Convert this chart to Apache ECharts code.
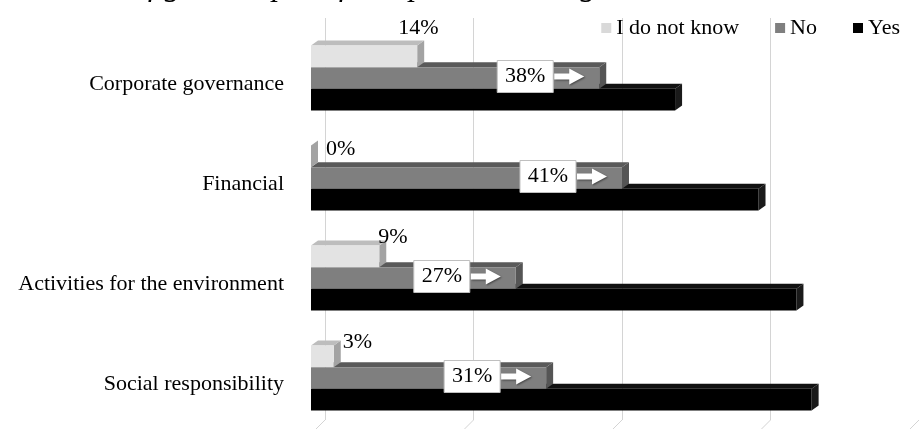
<!DOCTYPE html>
<html>
<head>
<meta charset="utf-8">
<script src="https://cdn.jsdelivr.net/npm/echarts@6/dist/echarts.min.js"></script>
<style>
  html, body { margin: 0; padding: 0; background: #fff; }
  #main { width: 919px; height: 429px; }
</style>
</head>
<body>
<div id="main"></div>
<script>
const categories = ['Corporate governance', 'Financial', 'Activities for the environment', 'Social responsibility'];
const seriesNames = ['I do not know', 'No', 'Yes'];
const dontKnow = [14, 0, 9, 3];
const no = [38, 41, 27, 31];
const yes = [48, 59, 64, 66];
const axisTicks = [0, 20, 40, 60, 80];

const FONT = '"Liberation Serif", "Times New Roman", serif';
const BAR_RATIO = 0.217;   // bar thickness as part of the category band
const DX = 7, DY = 5;      // 3d depth of the bars
// where the excel labels of the "I do not know" bars sit, relative to the bar end
const idkLabelShift = [[-19, -17], [15, 4], [-1, -8], [9, -3]];

const faces = [
  { front: '#e3e3e3', top: '#bdbdbd', side: '#a3a3a3', legend: '#d9d9d9' },
  { front: '#7f7f7f', top: '#5a5a5a', side: '#555555', legend: '#7f7f7f' },
  { front: '#000000', top: '#111111', side: '#1a1a1a', legend: '#000000' }
];

var myChart = echarts.init(document.getElementById('main'));

function barShapes (k, x0, x1, y0, t) {
  var c = faces[k];
  return [
    { type: 'polygon', shape: { points: [[x1, y0], [x1 + DX, y0 - DY], [x1 + DX, y0 + t - DY], [x1, y0 + t]] }, style: { fill: c.side } },
    { type: 'polygon', shape: { points: [[x0, y0], [x0 + DX, y0 - DY], [x1 + DX, y0 - DY], [x1, y0]] }, style: { fill: c.top } },
    { type: 'rect', shape: { x: x0, y: y0, width: x1 - x0, height: t }, style: { fill: c.front } }
  ];
}

function makeRender (k) {
  return function (params, api) {
    var val = api.value(0);
    var cat = api.value(1);
    var p0 = api.coord([0, cat]);
    var p1 = api.coord([val, cat]);
    var band = api.size([0, 1])[1];
    var t = band * BAR_RATIO;
    var y0 = p0[1] - 1.5 * t + k * t;
    var x0 = p0[0], x1 = p1[0];
    var children = barShapes(k, x0, x1, y0, t);

    if (k === 0) {
      var sh = idkLabelShift[params.dataIndex];
      children.push({
        type: 'text',
        style: { text: val + '%', x: x1 + sh[0], y: y0 + sh[1], fill: '#000', font: '22px ' + FONT, align: 'left', verticalAlign: 'middle' }
      });
    } else if (k === 1) {
      var bw = 56, bh = 32;
      var bx = x1 - 46 - bw;
      var cy = y0 + t / 2 - 1.5;
      var ax = bx + bw + 1;
      children.push({
        type: 'rect',
        shape: { x: bx, y: cy - bh / 2, width: bw, height: bh },
        style: { fill: '#fff', stroke: '#bfbfbf', lineWidth: 1 }
      });
      children.push({
        type: 'text',
        style: { text: val + '%', x: bx + bw / 2, y: cy, fill: '#000', font: '22px ' + FONT, align: 'center', verticalAlign: 'middle' }
      });
      children.push({
        type: 'polygon',
        shape: { points: [[ax, cy - 3], [ax + 15, cy - 3], [ax + 15, cy - 8], [ax + 30, cy], [ax + 15, cy + 8], [ax + 15, cy + 3], [ax, cy + 3]] },
        style: { fill: '#fff', shadowColor: 'rgba(0,0,0,0.45)', shadowBlur: 2, shadowOffsetX: 1, shadowOffsetY: 1 }
      });
    }
    return { type: 'group', children: children };
  };
}

function renderFloor (params, api) {
  var p = api.coord([api.value(0), 0]);
  return {
    type: 'line',
    shape: { x1: p[0], y1: p[1], x2: p[0] - 16, y2: p[1] + 16 },
    style: { stroke: '#d4d4d4', lineWidth: 1 }
  };
}

var valueSets = [dontKnow, no, yes];

var option = {
  animation: false,
  backgroundColor: '#fff',
  textStyle: { fontFamily: FONT },
  graphic: [{
    type: 'text',
    x: 632, y: 3,
    style: {
      text: "Figure 5. List of goal scopes of companies' strategies",
      font: 'italic 32px ' + FONT, fill: '#000', align: 'right', verticalAlign: 'bottom'
    }
  }],
  legend: {
    data: seriesNames,
    right: 14,
    top: 12,
    icon: 'rect',
    itemWidth: 10,
    itemHeight: 10,
    itemGap: 36,
    textStyle: { fontFamily: FONT, fontSize: 22, color: '#000' }
  },
  grid: [
    { left: 311, top: 28, height: 400, width: 606.8 },
    { left: 325, top: 18, height: 402, width: 606.8 }
  ],
  xAxis: [
    { type: 'value', gridIndex: 0, min: 0, max: 80, interval: 20, show: false },
    {
      type: 'value', gridIndex: 1, min: 0, max: 80, interval: 20,
      axisLine: { show: false }, axisTick: { show: false }, axisLabel: { show: false },
      splitLine: { show: true, lineStyle: { color: '#d4d4d4', width: 1 } }
    }
  ],
  yAxis: [
    {
      type: 'category', gridIndex: 0, data: categories, inverse: true,
      axisLine: { show: false }, axisTick: { show: false }, splitLine: { show: false },
      axisLabel: {
        margin: 27,
        formatter: v => '{c|' + v + '}',
        rich: { c: { fontFamily: FONT, fontSize: 22, color: '#000', padding: [12, 0, 0, 0] } }
      }
    },
    { type: 'value', gridIndex: 1, min: 0, max: 1, show: false }
  ],
  series: [{
    name: 'floor',
    type: 'custom',
    xAxisIndex: 1,
    yAxisIndex: 1,
    silent: true,
    z: 1,
    renderItem: renderFloor,
    data: axisTicks.map(v => [v])
  }].concat(seriesNames.map((name, k) => ({
    name: name,
    type: 'custom',
    xAxisIndex: 0,
    yAxisIndex: 0,
    z: 5 - k,
    itemStyle: { color: faces[k].legend },
    encode: { x: 0, y: 1 },
    renderItem: makeRender(k),
    data: valueSets[k].map((v, i) => [v, i])
  })))
};

myChart.setOption(option);
</script>
</body>
</html>
